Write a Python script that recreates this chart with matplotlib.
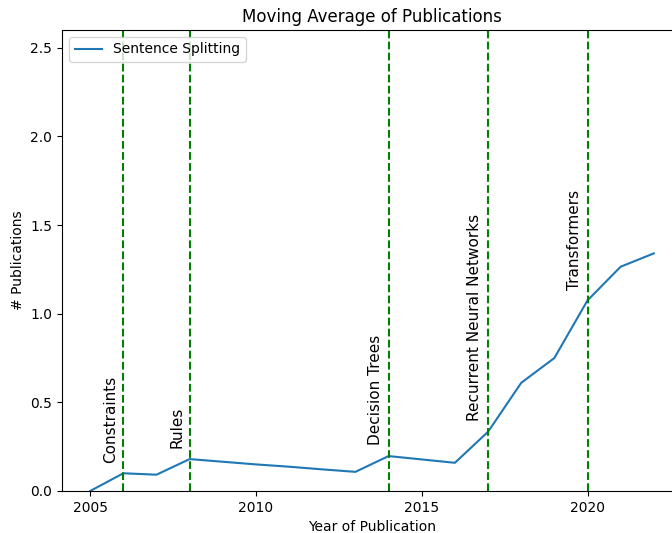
import numpy as np
import matplotlib.pyplot as plt

# moving average values
years = [2005, 2006, 2007, 2008, 2009, 2010, 2011, 2012, 2013,
         2014, 2015, 2016, 2017, 2018, 2019, 2020, 2021, 2022]
pubs = [0.0, 0.10, 0.092, 0.18, 0.165, 0.15, 0.137, 0.122, 0.108,
        0.197, 0.178, 0.159, 0.334, 0.61, 0.75, 1.075, 1.265, 1.34]

# milestones
milestone_years = [2006, 2008, 2014, 2017, 2020]
milestone_names = ['Constraints', 'Rules', 'Decision Trees',
                   'Recurrent Neural Networks', 'Transformers']
xtick_years = [2005, 2010, 2015, 2020]

fig = plt.figure(figsize=(6.72, 5.33), dpi=100)
ax = fig.add_axes([62 / 672, 1 - 491 / 533, 620 / 672, 461 / 533])

ax.plot(years, pubs, label='Sentence Splitting')

for yr, name in zip(milestone_years, milestone_names):
    ax.axvline(yr, color='green', linestyle='--')
    yv = pubs[years.index(yr)]
    ax.text(yr - 0.17, yv + 0.06, name, rotation=90, fontsize=11,
            ha='right', va='bottom')

ax.set_xticks(xtick_years)
ax.set_xlim(2004.15, 2022.85)
ax.set_ylim(0, 2.6)
ax.set_xlabel('Year of Publication')
ax.set_ylabel('# Publications')
ax.set_title('Moving Average of Publications')
ax.legend(loc='upper left')

fig.savefig('out.png', dpi=100)
